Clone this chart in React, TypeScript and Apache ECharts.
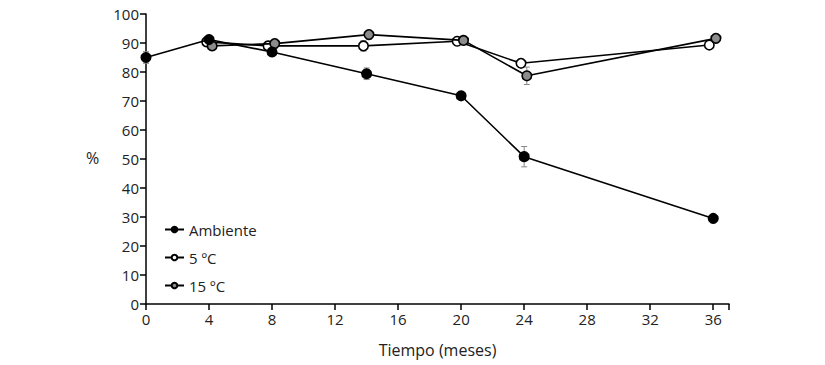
import React, { useEffect, useRef } from "react";
import * as echarts from "echarts";

const xAmb = [0, 4, 8, 14, 20, 24, 36];
const yAmb = [85, 91.2, 86.9, 79.4, 71.8, 50.8, 29.5];
const eAmb = [2, 0.8, 1.2, 2, 0.8, 3.5, 1];

const x5 = [3.85, 7.75, 13.8, 19.75, 23.8, 35.75];
const y5 = [90.4, 89, 89, 90.6, 83, 89.3];
const e5 = [0.8, 1.5, 1.8, 0.8, 0.5, 0.5];

const x15 = [4.2, 8.17, 14.15, 20.15, 24.17, 36.17];
const y15 = [89, 89.8, 92.9, 90.9, 78.7, 91.6];
const e15 = [0.8, 1.2, 0.8, 0.8, 3, 0.8];

const names = ["Ambiente", "5 ºC", "15 ºC"];
const xTicks = [0, 4, 8, 12, 16, 20, 24, 28, 32, 36];

const FONT = "Open Sans";

export default function App() {
  const ref = useRef<HTMLDivElement>(null);
  useEffect(() => {
    const chart = echarts.init(ref.current!, null, { renderer: "svg" });
    const pts = (xs: number[], ys: number[]) => xs.map((x, i) => [x, ys[i]]);
    const errs = (xs: number[], ys: number[], es: number[]) =>
      xs.map((x, i) => [x, ys[i] - es[i], ys[i] + es[i]]);
    const errData = [...errs(xAmb, yAmb, eAmb), ...errs(x5, y5, e5), ...errs(x15, y15, e15)];

    const lineSeries = (name: string, data: number[][], fill: string, z: number) => ({
      name,
      type: "line",
      data,
      symbol: "circle",
      symbolSize: 9.5,
      showSymbol: true,
      z,
      lineStyle: { color: "#000", width: 1.6 },
      itemStyle: { color: fill, borderColor: "#000", borderWidth: 1.6 },
      emphasis: { disabled: true },
    });

    chart.setOption({
      animation: false,
      textStyle: { fontFamily: FONT },
      grid: { left: 146, right: 96, top: 14, bottom: 61 },
      legend: {
        data: names,
        orient: "vertical",
        left: 159,
        top: 214,
        itemGap: 7,
        itemWidth: 19,
        itemHeight: 7,
        textStyle: { fontSize: 15, color: "#222", fontFamily: FONT, lineHeight: 21 },
      },
      xAxis: {
        type: "value",
        min: 0,
        max: 37,
        interval: 4,
        name: "Tiempo (meses)",
        nameLocation: "middle",
        nameGap: 38,
        nameTextStyle: { fontSize: 16, color: "#222", fontFamily: FONT },
        splitLine: { show: false },
        axisLine: { lineStyle: { color: "#000", width: 1.5 } },
        axisTick: { lineStyle: { color: "#000", width: 1.5 }, length: 6 },
        axisLabel: {
          fontSize: 15,
          color: "#222",
          margin: 7,
          formatter: (v: number) => (xTicks.includes(v) ? String(v) : ""),
        },
      },
      yAxis: {
        type: "value",
        min: 0,
        max: 100,
        interval: 10,
        splitLine: { show: false },
        axisLine: { show: true, lineStyle: { color: "#000", width: 1.5 } },
        axisTick: { show: true, lineStyle: { color: "#000", width: 1.5 }, length: 6 },
        axisLabel: { fontSize: 15, color: "#222", margin: 7 },
      },
      graphic: [
        {
          type: "text",
          left: 86,
          top: 150,
          style: { text: "%", fontSize: 16, fill: "#222", fontFamily: FONT },
        },
      ],
      series: [
        {
          type: "custom",
          name: "err",
          data: errData,
          z: 1,
          silent: true,
          renderItem: (params: any, api: any) => {
            const x = api.value(0);
            const lo = api.coord([x, api.value(1)]);
            const hi = api.coord([x, api.value(2)]);
            const w = 3;
            const st = { stroke: "#888", lineWidth: 1 };
            return {
              type: "group",
              children: [
                { type: "line", shape: { x1: lo[0], y1: lo[1], x2: hi[0], y2: hi[1] }, style: st },
                { type: "line", shape: { x1: lo[0] - w, y1: lo[1], x2: lo[0] + w, y2: lo[1] }, style: st },
                { type: "line", shape: { x1: hi[0] - w, y1: hi[1], x2: hi[0] + w, y2: hi[1] }, style: st },
              ],
            };
          },
        },
        lineSeries(names[1], pts(x5, y5), "#fff", 2),
        lineSeries(names[2], pts(x15, y15), "#8c8c8c", 3),
        lineSeries(names[0], pts(xAmb, yAmb), "#000", 4),
      ],
    });
    return () => chart.dispose();
  }, []);
  return (
    <div
      ref={ref}
      style={{ position: "fixed", left: 0, top: 0, width: 825, height: 365, background: "#fff" }}
    />
  );
}
